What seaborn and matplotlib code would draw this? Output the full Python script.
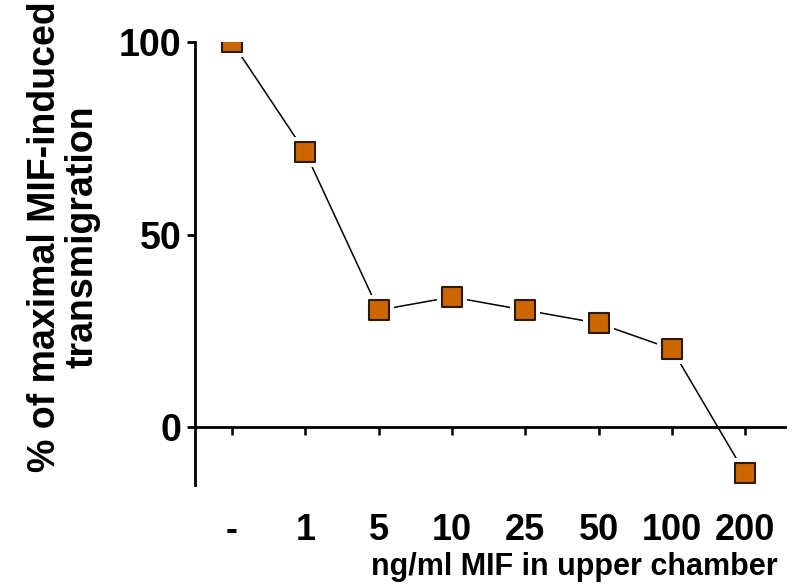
import pandas as pd
import matplotlib
matplotlib.use("Agg")
import matplotlib.pyplot as plt
import seaborn as sns

# valores
dosis = ['-', '1', '5', '10', '25', '50', '100', '200']
porcentaje = [100, 71.4, 30.4, 33.8, 30.4, 27.0, 20.3, -12.0]

df = pd.DataFrame({'dosis': dosis, 'porcentaje': porcentaje})

sns.set_style('ticks')
plt.rcParams['font.family'] = ['Liberation Sans', 'DejaVu Sans']
plt.rcParams['font.weight'] = 'bold'

fig = plt.figure(figsize=(8.09, 5.85), dpi=100)
ax = fig.add_axes([0.241, 0.171, 0.729, 0.757])

sns.lineplot(x='dosis', y='porcentaje', data=df, ax=ax, color='black',
             linewidth=1.1, sort=False, zorder=2)
# halo blanco para que la linea no toque los marcadores
sns.scatterplot(x='dosis', y='porcentaje', data=df, ax=ax, marker='s', s=470,
                color='white', edgecolor='none', linewidth=0, zorder=3)
sns.scatterplot(x='dosis', y='porcentaje', data=df, ax=ax, marker='s', s=200,
                color='#CC6600', edgecolor='#2a1a0a', linewidth=1.5, zorder=4)

ax.set_xlim(-0.505, 7.54)
ax.set_ylim(-15, 100)
ax.set_yticks([0, 50, 100])

ax.spines['top'].set_visible(False)
ax.spines['right'].set_visible(False)
ax.spines['bottom'].set_position(('data', 0))
for s in ['left', 'bottom']:
    ax.spines[s].set_linewidth(2)
    ax.spines[s].set_color('black')

ax.tick_params(axis='y', length=6, width=2, labelsize=27, pad=4, colors='black')
ax.tick_params(axis='x', length=6, width=1.8, labelsize=26, pad=56, colors='black')
for t in ax.get_xticklabels() + ax.get_yticklabels():
    t.set_fontweight('bold')

ax.set_xlabel('ng/ml MIF in upper chamber', fontsize=22, fontweight='bold',
              color='black', labelpad=3, loc='right')
ax.xaxis.label.set_x(0.988)
ax.set_ylabel('% of maximal MIF-induced\ntransmigration', fontsize=27,
              fontweight='bold', color='black', labelpad=13, linespacing=1.05)
ax.yaxis.label.set_y(0.56)

fig.savefig('out.png', dpi=100)
